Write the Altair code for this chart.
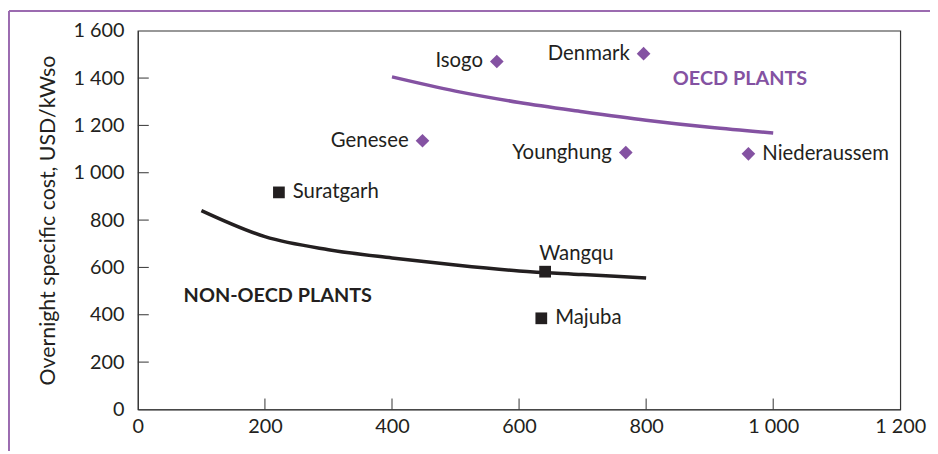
import altair as alt
import pandas as pd

# ---- data ----
oecd_curve_cap = [400, 500, 600, 700, 800, 900, 1000]
oecd_curve_cost = [1405, 1345, 1297, 1258, 1222, 1192, 1168]
non_curve_cap = [100, 200, 300, 400, 500, 600, 700, 800]
non_curve_cost = [840, 730, 675, 640, 610, 585, 570, 555]

oecd_names = ["Isogo", "Denmark", "Genesee", "Younghung", "Niederaussem"]
oecd_cap = [565, 796, 448, 768, 961]
oecd_cost = [1470, 1503, 1135, 1085, 1080]

non_names = ["Suratgarh", "Wangqu", "Majuba"]
non_cap = [222, 641, 635]
non_cost = [917, 582, 385]

x_ticks = [0, 200, 400, 600, 800, 1000, 1200]
y_ticks = [0, 200, 400, 600, 800, 1000, 1200, 1400, 1600]

PURPLE = "#8452a2"
BLACK = "#231f20"
FONT = "Lato"
W, H = 769, 382

curves = pd.DataFrame(
    {"cap": oecd_curve_cap + non_curve_cap,
     "cost": oecd_curve_cost + non_curve_cost,
     "grp": ["OECD"] * len(oecd_curve_cap) + ["NON"] * len(non_curve_cap)}
)
plants = pd.DataFrame(
    {"name": oecd_names + non_names,
     "cap": oecd_cap + non_cap,
     "cost": oecd_cost + non_cost,
     "grp": ["OECD"] * len(oecd_names) + ["NON"] * len(non_names)}
)

fmt = "replace(format(datum.value, ','), ',', ' ')"
xs = alt.Scale(domain=[0, 1200], nice=False, zero=False)
ys = alt.Scale(domain=[0, 1600], nice=False, zero=False)
X = alt.X("cap:Q", scale=xs, axis=alt.Axis(values=x_ticks, labelExpr=fmt, title=None,
                                          ticks=False, grid=False, labelPadding=7,
                                          labelFontSize=20, labelColor=BLACK, domainColor="#333",
                                          labelFont=FONT, labelFlush=False))
Y = alt.Y("cost:Q", scale=ys, axis=alt.Axis(values=y_ticks, labelExpr=fmt,
                                           title="Overnight specific cost, USD/kWso",
                                           titleFontSize=21.5, titleFont=FONT, titleFontWeight="normal",
                                           titleColor=BLACK, titlePadding=14,
                                           ticks=False, grid=False, labelPadding=14,
                                           labelFontSize=20, labelColor=BLACK, domainColor="#333",
                                           labelFont=FONT))
color = alt.Color("grp:N", scale=alt.Scale(domain=["OECD", "NON"], range=[PURPLE, BLACK]), legend=None)

lines = alt.Chart(curves).mark_line(strokeWidth=3.5, interpolate="monotone").encode(
    x=X, y=Y, color=color, detail="grp:N")

diamonds = alt.Chart(plants).transform_filter(alt.datum.grp == "OECD").mark_point(
    shape="diamond", filled=True, size=190, color=PURPLE, opacity=1).encode(x="cap:Q", y="cost:Q")
squares = alt.Chart(plants).transform_filter(alt.datum.grp == "NON").mark_point(
    shape="square", filled=True, size=140, color=BLACK, opacity=1).encode(x="cap:Q", y="cost:Q")

txt = dict(font=FONT, fontSize=20.5, color=BLACK, baseline="middle")
left_lab = alt.Chart(plants).transform_filter(
    alt.FieldOneOfPredicate(field="name", oneOf=["Isogo", "Denmark", "Genesee", "Younghung"])
).mark_text(align="right", dx=-14, **txt).encode(x="cap:Q", y="cost:Q", text="name:N")
right_lab = alt.Chart(plants).transform_filter(
    alt.FieldOneOfPredicate(field="name", oneOf=["Niederaussem", "Suratgarh", "Majuba"])
).mark_text(align="left", dx=14, **txt).encode(x="cap:Q", y="cost:Q", text="name:N")
top_lab = alt.Chart(plants).transform_filter(alt.datum.name == "Wangqu").mark_text(
    align="left", dx=-6, dy=-18, **txt).encode(x="cap:Q", y="cost:Q", text="name:N")

grp_labels = pd.DataFrame({"cap": [842, 72], "cost": [1394, 477],
                           "label": ["OECD PLANTS", "NON-OECD PLANTS"], "grp": ["OECD", "NON"]})
grp_text = alt.Chart(grp_labels).mark_text(align="left", baseline="middle", font=FONT,
                                           fontSize=20, fontWeight="bold").encode(
    x="cap:Q", y="cost:Q", text="label:N", color=color)

# inward ticks
xt = alt.Chart(pd.DataFrame({"cap": x_ticks[1:-1]})).mark_rule(color="#333", strokeWidth=1).encode(
    x="cap:Q", y=alt.value(H), y2=alt.value(H - 11))
yt = alt.Chart(pd.DataFrame({"cost": y_ticks[1:-1]})).mark_rule(color="#333", strokeWidth=1).encode(
    y="cost:Q", x=alt.value(0), x2=alt.value(11))

# purple outer frame (decoration)
frame_top = alt.Chart(pd.DataFrame({"a": [0]})).mark_rule(color="#9b6bb0", strokeWidth=2).encode(
    x=alt.value(-130), x2=alt.value(W + 40), y=alt.value(-20))
frame_left = alt.Chart(pd.DataFrame({"a": [0]})).mark_rule(color="#9b6bb0", strokeWidth=2).encode(
    x=alt.value(-130), y=alt.value(-20), y2=alt.value(H + 60))

chart = alt.layer(frame_top, frame_left, xt, yt, lines, diamonds, squares,
                  left_lab, right_lab, top_lab, grp_text).properties(
    width=W, height=H,
    autosize=alt.AutoSizeParams(type="none"),
    padding={"left": 131, "top": 21, "right": 30, "bottom": 40},
).configure_view(stroke="#333", strokeWidth=1.2)

chart.save("out.html", embed_options={"renderer": "svg", "actions": False})
